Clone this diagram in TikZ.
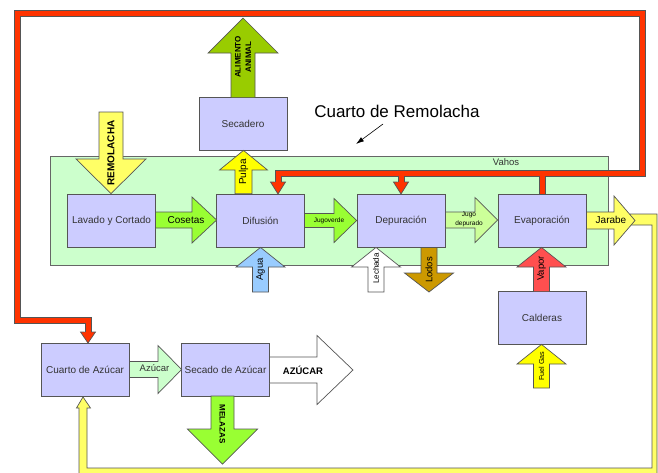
\documentclass[tikz,border=0pt]{standalone}
\usepackage{fontspec}
\setmainfont{Liberation Sans}
\usetikzlibrary{arrows.meta}
\definecolor{boxfill}{HTML}{CCCCFF}
\definecolor{roomfill}{HTML}{CCFFCC}
\definecolor{pipered}{HTML}{FF3300}
\definecolor{pipeyel}{HTML}{FFFF66}
\definecolor{edgegray}{HTML}{555555}
\definecolor{txtgray}{HTML}{333333}
\definecolor{cOlive}{HTML}{99CC00}
\definecolor{cLYellow}{HTML}{FFFF66}
\definecolor{cYellow}{HTML}{FFFF00}
\definecolor{cGreen}{HTML}{99FF33}
\definecolor{cPaleGreen}{HTML}{CCFF99}
\definecolor{cBlue}{HTML}{99CCFF}
\definecolor{cBrown}{HTML}{CC9900}
\definecolor{cRed}{HTML}{FF4F4F}
\definecolor{cMint}{HTML}{CCFFCC}
\tikzset{
  box/.style={draw=edgegray, line width=0.8pt, fill=boxfill, minimum width=88pt, minimum height=53pt, inner sep=0pt, outer sep=0pt, text=txtgray, font=\fontsize{10}{12}\selectfont},
  arrowline/.style={draw=edgegray, line width=0.7pt, line join=miter},
  lbl/.style={inner sep=0pt, text=txtgray, font=\fontsize{10}{12}\selectfont},
  tiny/.style={inner sep=0pt, text=black, font=\fontsize{7}{8.5}\selectfont, align=center},
  boldlbl/.style={inner sep=0pt, text=black, font=\bfseries\fontsize{8}{10}\selectfont, align=center},
  pipedark/.style={line width=7pt, draw=edgegray, line join=miter, line cap=butt},
  pipelight/.style={line width=5pt, draw=pipered, line join=miter, line cap=butt}
}
% vertical block arrow: fill, cx, ytail, ybase, ytip, shaft half width, head half width
\newcommand\VArrow[7]{%
  \filldraw[arrowline, fill=#1] ({#2-#6},#3) -- ({#2-#6},#4) -- ({#2-#7},#4) -- (#2,#5) -- ({#2+#7},#4) -- ({#2+#6},#4) -- ({#2+#6},#3) -- cycle;}
% horizontal block arrow: fill, cy, xtail, xbase, xtip, shaft half width, head half width
\newcommand\HArrow[7]{%
  \filldraw[arrowline, fill=#1] (#3,{#2-#6}) -- (#4,{#2-#6}) -- (#4,{#2-#7}) -- (#5,#2) -- (#4,{#2+#7}) -- (#4,{#2+#6}) -- (#3,{#2+#6}) -- cycle;}
% red pipe arrow head pointing down: cx, ybase, ytip
\newcommand\RedHead[3]{%
  \fill[pipered] ({#1-7.5},#2) -- (#1,#3) -- ({#1+7.5},#2) -- cycle;
  \fill[pipered] ({#1-2.5},{#2-1}) rectangle ({#1+2.5},{#2+1});
  \draw[arrowline] ({#1-3.5},#2) -- ({#1-7.5},#2) -- (#1,#3) -- ({#1+7.5},#2) -- ({#1+3.5},#2);}
\begin{document}
\begin{tikzpicture}[x=1pt,y=-1pt]
\useasboundingbox (0,0) rectangle (658,472);
\clip (0,0) rectangle (658,472);
\fill[white] (0,0) rectangle (658,472);

% Cuarto de Remolacha area
\filldraw[draw=gray!80!black, line width=0.6pt, fill=roomfill] (50,156) rectangle (608,265);
\node[inner sep=0pt, font=\fontsize{9.5}{11}\selectfont, text=txtgray] (vahos) at (506,162) {Vahos};

% title and pointer
\node[inner sep=0pt, font=\fontsize{17}{20}\selectfont] (title) at (397,111) {Cuarto de Remolacha};
\coordinate (ptip) at (356,144);
\draw[line width=0.6pt, -{Latex[length=8pt,width=5pt]}] (383,124) -- (ptip);

% yellow return pipe (Jarabe to Cuarto de Azucar)
\filldraw[arrowline, fill=pipeyel] (630,214) -- (657,214) -- (657,478) -- (79,478) -- (79,408) -- (76.5,408) -- (83,397) -- (90.5,408) -- (87,408) -- (87,468) -- (652,468) -- (652,225) -- (630,225) -- cycle;

% red steam pipe
\draw[pipedark] (88,332) -- (88,320) -- (17,320) -- (17,13) -- (642,13) -- (642,173) -- (278,173) -- (278,182);
\draw[pipedark] (401,173) -- (401,182);
\draw[pipedark] (542,173) -- (542,194);
\draw[pipelight] (88,332) -- (88,320) -- (17,320) -- (17,13) -- (642,13) -- (642,173) -- (278,173) -- (278,182);
\draw[pipelight] (401,173) -- (401,182);
\draw[pipelight] (542,173) -- (542,194);
\RedHead{278}{182}{194}
\RedHead{401}{182}{194}
\RedHead{88}{332}{343}

% boxes
\node[box] (sec) at (243,124) {Secadero};
\node[box] (lav) at (111.5,220.5) {Lavado y Cortado};
\node[box] (dif) at (260.5,220.5) {Difusión};
\node[box] (dep) at (401,220.5) {Depuración};
\node[box] (eva) at (542,220.5) {Evaporación};
\node[box] (cal) at (542,318) {Calderas};
\node[box] (caz) at (85,369.5) {Cuarto de Azúcar};
\node[box] (saz) at (225.5,369.5) {Secado de Azúcar};

% block arrows
\VArrow{cOlive}{243}{97.6}{53}{18}{12}{35}
\node[boldlbl, rotate=90, font=\bfseries\fontsize{8}{10.5}\selectfont] (alim) at (243,57) {ALIMENTO\\ANIMAL};

\VArrow{cLYellow}{111}{112}{159}{193.6}{12}{35}
\node[boldlbl, rotate=90, font=\bfseries\fontsize{10}{12}\selectfont] (rem) at (111,153) {REMOLACHA};

\VArrow{cYellow}{243.5}{193.6}{170}{150.4}{8.5}{24}
\node[lbl, rotate=90, text=black] (pul) at (243.5,172) {Pulpa};

\HArrow{cGreen}{220}{155.4}{192}{216.6}{8}{23}
\node[lbl, text=black] (cos) at (186,220) {Cosetas};

\HArrow{cGreen}{220.5}{304.4}{334}{356.6}{7}{22}
\node[tiny, font=\fontsize{6.5}{8}\selectfont] (jv) at (329,221) {Jugoverde};

\HArrow{cPaleGreen}{220}{445.4}{475}{497.6}{8}{22.5}
\node[tiny, font=\fontsize{6.5}{9}\selectfont] (jd) at (469,219) {Jugo\\depurado};

\HArrow{cLYellow}{220.5}{586.4}{614}{635}{8.5}{24.5}
\node[lbl, text=black] (jar) at (611,220) {Jarabe};

\VArrow{cBlue}{260.5}{292}{267}{247.4}{8}{24.5}
\node[lbl, rotate=90, text=black, font=\fontsize{9.5}{11}\selectfont] (agu) at (260.5,269.5) {Agua};

\VArrow{white}{376}{292}{267}{247.4}{8}{24.5}
\node[lbl, rotate=90, text=black, font=\fontsize{8}{10}\selectfont] (lec) at (376,268.5) {Lechada};

\VArrow{cBrown}{429}{247.4}{273}{292}{8}{24.5}
\node[lbl, rotate=90, text=black, font=\fontsize{9.5}{11}\selectfont] (lod) at (429,270) {Lodos};

\VArrow{cRed}{541.5}{291.6}{267}{247.4}{8}{24.5}
\node[lbl, rotate=90, text=black, font=\fontsize{9.5}{11}\selectfont] (vap) at (541.5,268.5) {Vapor};

\VArrow{cYellow}{541.5}{388}{364}{344.4}{8}{24.5}
\node[lbl, rotate=90, text=black, font=\fontsize{7.2}{9}\selectfont] (fue) at (541.5,366) {Fuel Gas};

\HArrow{cMint}{369.5}{129.4}{158}{181.6}{8}{24}
\node[lbl, font=\fontsize{9.5}{11}\selectfont] (az1) at (154.5,368.5) {Azúcar};

\HArrow{white}{370}{269.4}{317}{353}{13}{34.5}
\node[boldlbl, font=\bfseries\fontsize{9.5}{11}\selectfont] (az2) at (303,370) {AZÚCAR};

\VArrow{cGreen}{222.5}{396}{429}{464}{11.5}{35}
\node[boldlbl, rotate=-90] (mel) at (222.5,424) {MELAZAS};
\end{tikzpicture}
\end{document}
